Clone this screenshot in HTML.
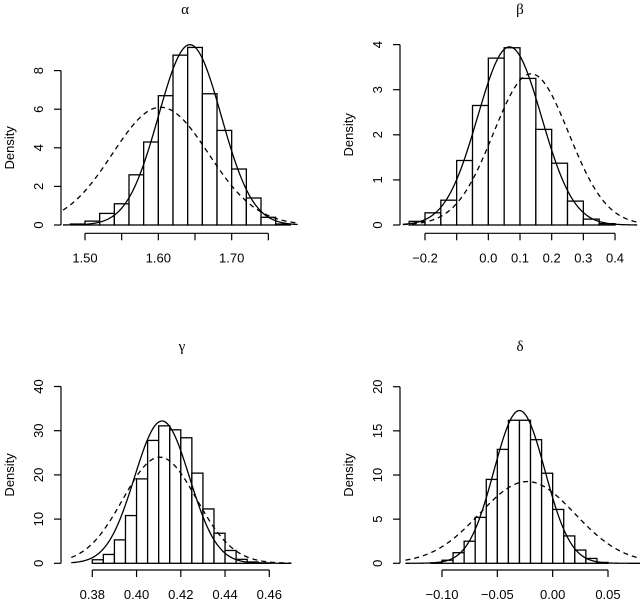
<!DOCTYPE html>
<html><head><meta charset="utf-8"><style>
html,body{margin:0;padding:0;background:#fff}
svg{display:block}
text{font-family:"Liberation Sans",sans-serif;font-size:13px;fill:#000}
.title{font-family:"Liberation Serif","DejaVu Serif",serif;font-size:15px}
</style></head><body>
<svg id="chart" width="640" height="601" viewBox="0 0 640 601" xmlns="http://www.w3.org/2000/svg"></svg>
<script>
// Panel alpha
const alphaBins = [1.48,1.50,1.52,1.54,1.56,1.58,1.60,1.62,1.64,1.66,1.68,1.70,1.72,1.74,1.76,1.78];
const alphaHeights = [0.05,0.2,0.6,1.1,2.6,4.3,6.7,8.8,9.2,6.8,4.9,2.9,1.4,0.4,0.05];
const alphaXTicks = [1.50,1.55,1.60,1.65,1.70,1.75];
const alphaXLabels = ["1.50","","1.60","","1.70",""];
const alphaYTicks = [0,2,4,6,8];
const alphaSolid = [1.643,0.0427];
const alphaDashed = [1.603,0.0654];
const alphaRange = [1.47,1.79];
// Panel beta
const betaBins = [-0.25,-0.2,-0.15,-0.1,-0.05,0,0.05,0.1,0.15,0.2,0.25,0.3,0.35,0.4];
const betaHeights = [0.08,0.27,0.55,1.43,2.65,3.7,3.93,3.25,2.12,1.37,0.53,0.13,0.03];
const betaXTicks = [-0.2,-0.1,0,0.1,0.2,0.3,0.4];
const betaXLabels = ["\u22120.2","","0.0","0.1","0.2","0.3","0.4"];
const betaYTicks = [0,1,2,3,4];
const betaSolid = [0.067,0.101];
const betaDashed = [0.135,0.119];
const betaRange = [-0.27,0.47];
// Panel gamma
const gammaBins = [0.38,0.385,0.39,0.395,0.40,0.405,0.41,0.415,0.42,0.425,0.43,0.435,0.44,0.445,0.45,0.455,0.46];
const gammaHeights = [0.8,2.0,5.3,10.8,19.1,27.8,31.1,30.2,28.4,20.4,12.3,6.8,2.9,0.9,0.3,0.1];
const gammaXTicks = [0.38,0.40,0.42,0.44,0.46];
const gammaXLabels = ["0.38","0.40","0.42","0.44","0.46"];
const gammaYTicks = [0,10,20,30,40];
const gammaSolid = [0.4115,0.01239];
const gammaDashed = [0.4105,0.01662];
const gammaRange = [0.3705,0.47];
// Panel delta
const deltaBins = [-0.11,-0.10,-0.09,-0.08,-0.07,-0.06,-0.05,-0.04,-0.03,-0.02,-0.01,0,0.01,0.02,0.03,0.04,0.05];
const deltaHeights = [0.05,0.35,1.2,2.5,5.2,9.5,12.9,16.2,16.2,14.0,10.2,6.1,3.1,1.5,0.55,0.1];
const deltaXTicks = [-0.10,-0.05,0,0.05];
const deltaXLabels = ["\u22120.10","\u22120.05","0.00","0.05"];
const deltaYTicks = [0,5,10,15,20];
const deltaSolid = [-0.030,0.02306];
const deltaDashed = [-0.023,0.0431];
const deltaRange = [-0.133,0.08];

const NS = "http://www.w3.org/2000/svg";
const svg = document.getElementById('chart');
function mk(tag, attrs, parent){
  const e = document.createElementNS(NS, tag);
  for (const k in attrs) e.setAttribute(k, attrs[k]);
  (parent||svg).appendChild(e);
  return e;
}
function dnorm(x,m,s){return Math.exp(-0.5*((x-m)/s)**2)/(s*Math.sqrt(2*Math.PI));}

function panel(cfg){
  const g = mk('g', {});
  
  
  const xs = v => cfg.x0px + (v - cfg.x0v) * cfg.xpx;
  const ys = v => cfg.y0px - v * cfg.ypx;
  for (let i=0;i<cfg.heights.length;i++){
    const x1 = xs(cfg.bins[i]), x2 = xs(cfg.bins[i+1]), y = ys(cfg.heights[i]);
    const r = mk('rect', {x:x1, y:y, width:x2-x1, height:cfg.y0px-y, fill:'#fff', stroke:'#000', 'stroke-width':1.3}, g);
    
    
  }
  function curve(p, dash, nm){
    let d = '';
    const n = 200;
    for (let i=0;i<=n;i++){
      const v = cfg.range[0] + (cfg.range[1]-cfg.range[0])*i/n;
      d += (i?'L':'M') + xs(v).toFixed(2) + ',' + ys(dnorm(v,p[0],p[1])).toFixed(2);
    }
    const pa = mk('path', {d:d, fill:'none', stroke:'#000', 'stroke-width':1.3, 'stroke-dasharray':dash}, g);
    
    
  }
  curve(cfg.dashed, '5,4', 'dashed-density-curve');
  curve(cfg.solid, 'none', 'solid-density-curve');
  const yt = cfg.yticks;
  const ya = mk('line', {x1:cfg.yax, x2:cfg.yax, y1:ys(yt[0]), y2:ys(yt[yt.length-1]), stroke:'#000', 'stroke-width':1.2}, g);
  
  
  yt.forEach(v=>{
    const y = ys(v);
    mk('line', {x1:cfg.yax-7, x2:cfg.yax, y1:y, y2:y, stroke:'#000', 'stroke-width':1.2}, g);
    const t = mk('text', {x:cfg.yax-18, y:y, 'text-anchor':'middle', transform:`rotate(-90 ${cfg.yax-18} ${y})`}, g);
    
    
    t.textContent = String(v);
  });
  const cy = (ys(yt[0])+ys(yt[yt.length-1]))/2;
  const yl = mk('text', {x:cfg.yax-47, y:cy, 'text-anchor':'middle', transform:`rotate(-90 ${cfg.yax-47} ${cy})`}, g);
  
  
  yl.textContent = 'Density';
  const xt = cfg.xticks;
  const xa = mk('line', {x1:xs(xt[0]), x2:xs(xt[xt.length-1]), y1:cfg.xay, y2:cfg.xay, stroke:'#000', 'stroke-width':1.2}, g);
  
  
  xt.forEach((v,i)=>{
    const x = xs(v);
    mk('line', {x1:x, x2:x, y1:cfg.xay, y2:cfg.xay+7, stroke:'#000', 'stroke-width':1.2}, g);
    if (cfg.xlabels[i]){
      const t = mk('text', {x:x, y:cfg.xay+29, 'text-anchor':'middle'}, g);
      
      
      t.textContent = cfg.xlabels[i];
    }
  });
  const tt = mk('text', {x:cfg.tx, y:cfg.ty, 'text-anchor':'middle', class:'title'}, g);
  
  
  tt.textContent = cfg.title;
}

panel({name:'alpha', title:'\u03b1', bins:alphaBins, heights:alphaHeights, xticks:alphaXTicks, xlabels:alphaXLabels, yticks:alphaYTicks, solid:alphaSolid, dashed:alphaDashed, range:alphaRange,
  x0v:1.50, x0px:85, xpx:36.67/0.05, y0px:225, ypx:19.3, yax:61, xay:233.3, tx:185, ty:14});
panel({name:'beta', title:'\u03b2', bins:betaBins, heights:betaHeights, xticks:betaXTicks, xlabels:betaXLabels, yticks:betaYTicks, solid:betaSolid, dashed:betaDashed, range:betaRange,
  x0v:-0.2, x0px:425, xpx:31.67/0.1, y0px:225, ypx:45.1, yax:400, xay:233.3, tx:520, ty:14});
panel({name:'gamma', title:'\u03b3', bins:gammaBins, heights:gammaHeights, xticks:gammaXTicks, xlabels:gammaXLabels, yticks:gammaYTicks, solid:gammaSolid, dashed:gammaDashed, range:gammaRange,
  x0v:0.38, x0px:92.3, xpx:44.25/0.02, y0px:563.3, ypx:4.42, yax:61, xay:570, tx:182, ty:351});
panel({name:'delta', title:'\u03b4', bins:deltaBins, heights:deltaHeights, xticks:deltaXTicks, xlabels:deltaXLabels, yticks:deltaYTicks, solid:deltaSolid, dashed:deltaDashed, range:deltaRange,
  x0v:-0.10, x0px:442, xpx:55.33/0.05, y0px:563.3, ypx:8.83, yax:400, xay:570, tx:520, ty:351});
</script>
</body></html>
